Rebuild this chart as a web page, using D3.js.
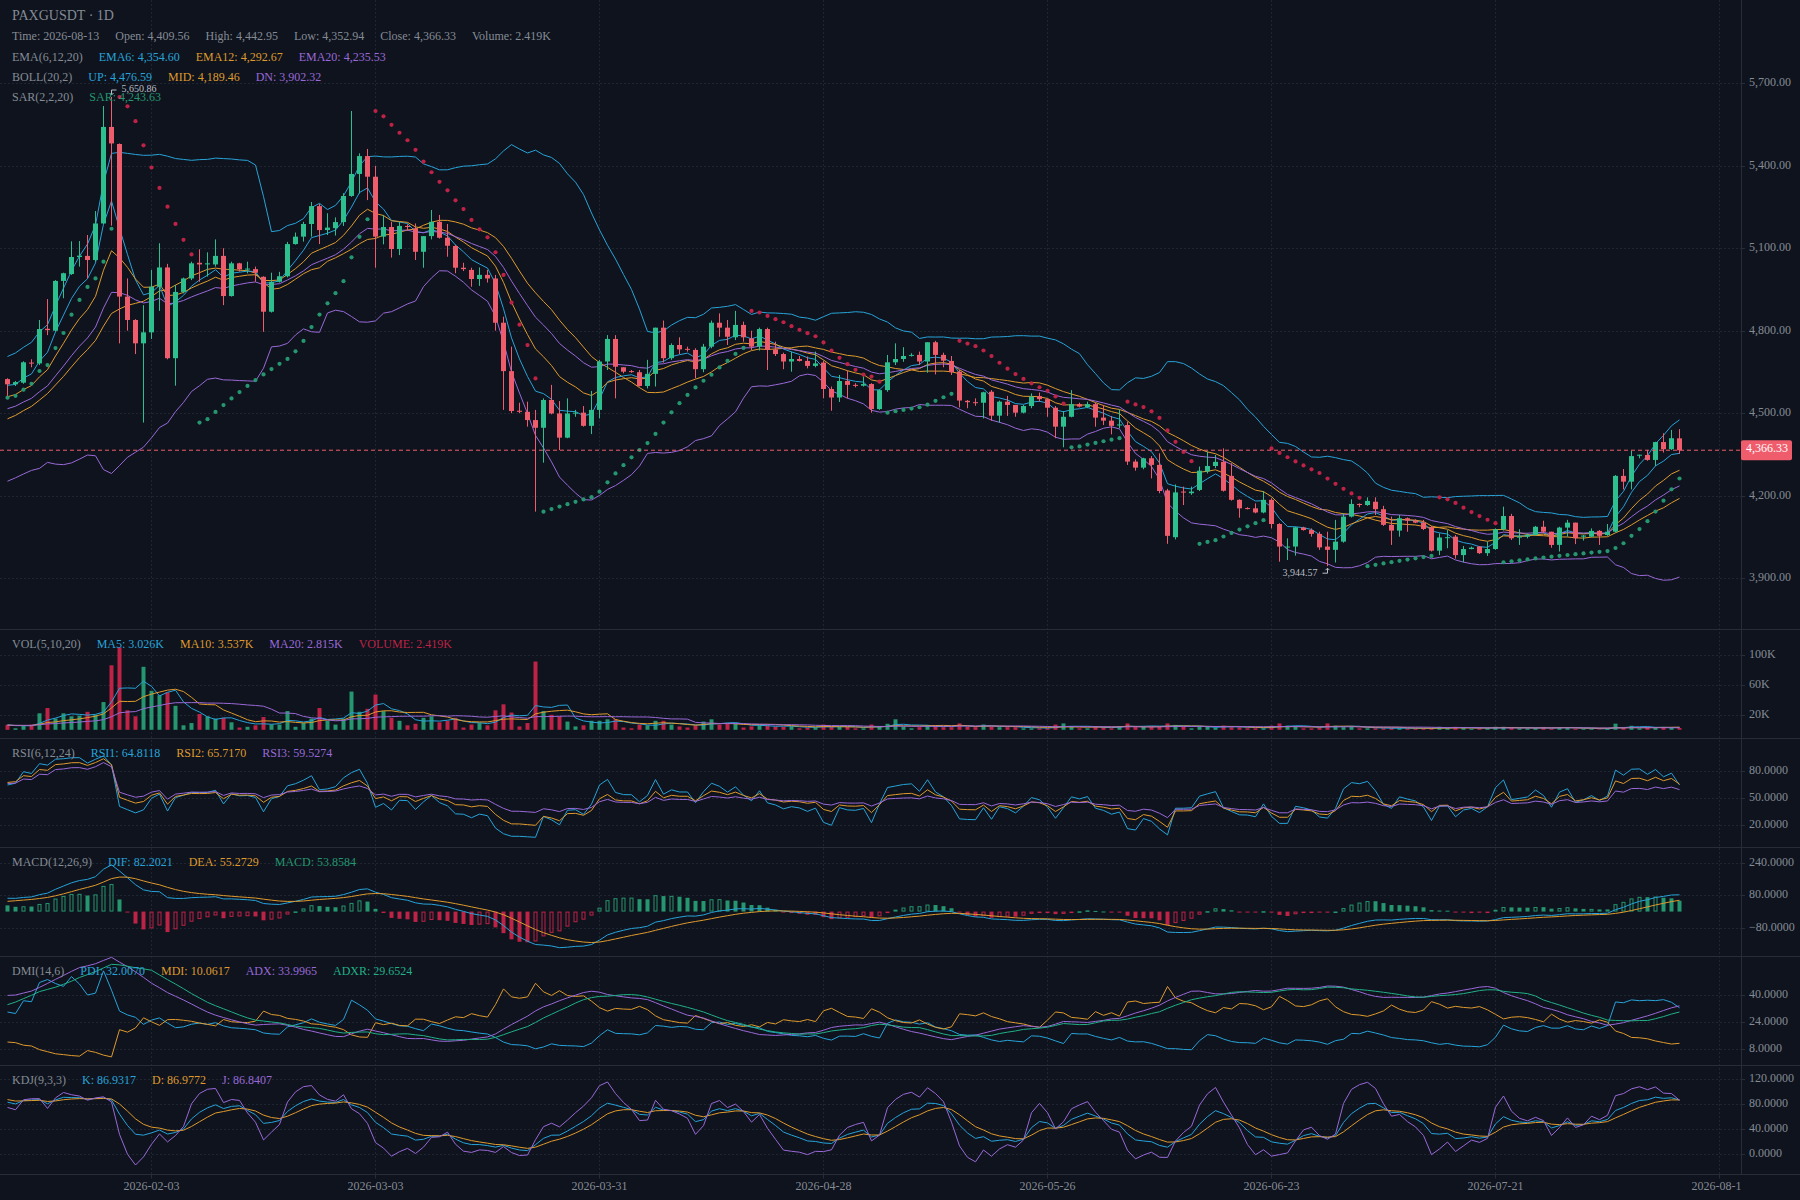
<!DOCTYPE html>
<html><head><meta charset="utf-8">
<script src="https://cdn.jsdelivr.net/npm/d3@7"></script>
<style>html,body{margin:0;padding:0;background:#0e131d;}svg{display:block}</style>
</head><body><svg id="c" width="1800" height="1200"></svg>
<script>
// ---------------- DATA ----------------
const symbolTitle = "PAXGUSDT · 1D";
const startDate = "2026-01-16";
const openP = [
4625,4606,4612,4685,4682,4808,4801,4982,5007,5069,
5073,5058,5191,5542,5480,4925,4840,4755,4795,4961,
5031,4701,4942,4991,5048,5042,5042,5073,4927,5046,
5024,5025,4997,4870,4979,4999,5116,5143,5189,5254,
5167,5174,5196,5291,5371,5436,5361,5143,5178,5098,
5182,5173,5088,5145,5197,5139,5109,5030,5022,4989,
5004,4991,4830,4654,4510,4506,4476,4448,4549,4500,
4412,4500,4503,4455,4513,4689,4771,4668,4654,4650,
4600,4644,4812,4701,4749,4735,4731,4661,4743,4830,
4812,4777,4822,4773,4743,4807,4733,4716,4689,4698,
4691,4673,4685,4589,4558,4618,4604,4601,4607,4516,
4585,4686,4698,4711,4713,4689,4759,4713,4691,4652,
4546,4541,4539,4579,4492,4543,4531,4503,4527,4563,
4552,4521,4452,4488,4534,4523,4534,4485,4474,4458,
4458,4325,4303,4337,4313,4220,4050,4216,4210,4222,
4289,4309,4324,4273,4186,4156,4155,4140,4186,4098,
4013,4016,4085,4076,4062,4016,4004,4034,4125,4171,
4167,4179,4152,4095,4074,4119,4110,4103,4086,4001,
4049,4052,3985,4007,4016,3992,4007,4079,4127,4050,
4052,4058,4088,4070,4022,4085,4103,4052,4052,4073,
4058,4070,4273,4252,4348,4349,4331,4396,4370,4409.56];
const highP = [
4628,4618,4690,4697,4840,4916,4985,5012,5126,5127,
5149,5236,5618,5650.86,5482,4991,4843,4894,5022,5119,
5044,4967,4994,5052,5097,5086,5133,5101,5052,5048,
5052,5034,4999,5012,5015,5124,5158,5197,5269,5262,
5228,5213,5301,5600,5446,5462,5400,5222,5197,5197,
5188,5191,5145,5240,5222,5189,5113,5048,5030,5031,
5022,5004,4852,4743,4539,4543,4513,4555,4604,4545,
4555,4513,4527,4582,4695,4785,4785,4668,4658,4658,
4695,4812,4838,4755,4777,4743,4737,4753,4838,4864,
4840,4873,4834,4801,4812,4812,4761,4721,4725,4709,
4707,4725,4692,4598,4640,4656,4610,4634,4610,4588,
4713,4755,4741,4719,4725,4759,4764,4721,4709,4658,
4549,4555,4579,4585,4547,4564,4531,4531,4573,4576,
4555,4527,4509,4585,4539,4543,4539,4531,4491,4515,
4470,4333,4339,4345,4355,4226,4242,4234,4234,4307,
4361,4349,4373,4319,4188,4159,4173,4218,4192,4101,
4046,4088,4088,4082,4070,4070,4113,4137,4188,4173,
4195,4195,4164,4125,4131,4122,4115,4113,4091,4064,
4076,4058,4018,4016,4018,4034,4082,4161,4135,4079,
4064,4091,4110,4070,4088,4113,4103,4058,4082,4076,
4098,4276,4298,4365,4350,4367,4397,4428,4440,4442.95];
const lowP = [
4564,4600,4608,4668,4676,4785,4798,4919,5004,5034,
4991,5052,5189,5183,4755,4801,4716,4467,4771,4873,
4697,4601,4937,4985,4979,4998,5034,4894,4925,5016,
5010,4979,4797,4867,4976,4995,5114,5125,5143,5116,
5149,5147,5182,5288,5300,5276,5030,5115,5067,5076,
5165,5058,5030,5133,5136,5070,5010,5018,4961,4964,
4976,4801,4513,4501,4501,4452,4143,4321,4497,4367,
4410,4488,4452,4425,4482,4658,4555,4646,4648,4598,
4591,4598,4685,4695,4716,4725,4628,4650,4737,4779,
4749,4767,4761,4731,4729,4658,4709,4661,4652,4689,
4664,4668,4555,4510,4542,4555,4595,4598,4503,4513,
4579,4676,4688,4707,4676,4648,4642,4668,4640,4522,
4519,4528,4482,4474,4467,4491,4488,4500,4519,4543,
4488,4410,4377,4486,4522,4519,4452,4458,4424,4446,
4313,4292,4297,4264,4210,4026,4042,4167,4204,4218,
4282,4301,4216,4183,4121,4151,4137,4137,4082,3961,
3967,3983,4074,4052,4004,3944.57,3958,4030,4122,4159,
4164,4131,4091,4022,4052,4070,4101,4076,3998,3985,
4010,3972,3959,4006,3989,3982,4004,4074,4040,4022,
4046,4055,4064,4012,3998,4052,4025,4038,4050,4022,
4055,4067,4224,4224,4337,4328,4309,4358,4367,4352.94];
const closeP = [
4606,4614,4686,4682,4807,4803,4982,5010,5069,5074,
5058,5191,5542,5482,4925,4840,4755,4795,4961,5031,
4701,4942,4991,5046,5042,5046,5073,4927,5046,5024,
5027,5012,4870,4979,4999,5116,5143,5189,5254,5167,
5176,5196,5291,5371,5436,5361,5143,5178,5098,5182,
5178,5088,5145,5197,5139,5110,5030,5025,4989,5004,
4991,4830,4654,4509,4506,4476,4448,4549,4500,4412,
4500,4503,4455,4513,4689,4771,4670,4652,4651,4600,
4644,4812,4701,4749,4733,4733,4661,4743,4830,4812,
4779,4822,4777,4743,4807,4731,4716,4689,4698,4691,
4673,4682,4589,4558,4618,4604,4602,4607,4516,4585,
4686,4698,4709,4713,4689,4759,4713,4692,4650,4547,
4541,4539,4577,4492,4543,4531,4503,4527,4561,4552,
4521,4452,4488,4534,4525,4534,4485,4474,4455,4460,
4325,4303,4337,4313,4218,4055,4213,4213,4216,4292,
4309,4324,4219,4186,4155,4153,4140,4186,4098,4016,
4016,4086,4076,4062,4013,4004,4034,4125,4171,4167,
4182,4152,4095,4074,4119,4110,4103,4080,4001,4049,
4050,3985,4007,4012,3992,4007,4079,4127,4046,4052,
4058,4088,4070,4022,4085,4103,4046,4056,4073,4055,
4070,4273,4252,4345,4350,4331,4396,4370,4410,4366.33];
const volumeK = [
6.7,2,5,7,22,29,15,22,18,19,
24,20,37,86,110,26,18,84,52,46,
50,32,6,9,21,18,15,16,10,3,
4,6,17,7,7,25,4,9,15,29,
12,7,15,51,24,28,47,25,16,12,
6,8,16,18,10,12,16,3,7,9,
6,26,34,23,4.5,9,91,25,20,18,
11,4.5,6,12,12,14,14,3,2,7,
6,12,12,7,4.5,3,6,11,14,7,
8,8,3,4.5,6,6,4,4,4.5,2,
3,3,7,4,4,4,2,2,7,4,
8,14,4,2,3.5,6.5,6,3.5,3.5,8.5,
4,3.5,7,4,3.5,3.5,3.5,2,2,2,
2,7,8.5,4,2,2,5,3.5,2,5,
8.5,4,4,4,4,8.5,6.5,4,2,4,
4,3,5.5,3.5,3.5,2,2,2,5.5,8.5,
5.5,5,2,2,2.5,8.5,5.5,3.5,4,2,
2,2,2,2.5,2.2,1.8,1.5,2.0,2.6,4,
2.2,4,2.4,1.6,2.0,2.2,4,4,2.5,2.0,
2.0,2.2,3.8,1.6,3.6,3.5,1.5,1.0,1.2,0.55,
2.2,8.2,2.5,5.3,2.0,3.4,3.0,3.3,3.0,2.419];
// bars before the visible window (only feed the indicators, not drawn)
const warmClose = [4385,4370,4392,4378,4380,4395,4372,4360,4388,4402,4376,4365,4390,4370,4385,4362,4340,4372,4350,4328,4356,4390,4372,4405,4470,4525,4505,4560,4598,4575,4612,4640,4618,4625];
const warmHigh  = [4398,4392,4405,4395,4398,4410,4400,4385,4395,4415,4405,4388,4398,4395,4396,4390,4368,4380,4378,4360,4365,4398,4395,4412,4478,4535,4532,4568,4610,4602,4620,4652,4645,4638];
const warmLow   = [4368,4360,4365,4368,4362,4375,4365,4350,4355,4382,4370,4355,4362,4362,4365,4355,4330,4335,4342,4320,4322,4350,4365,4368,4400,4462,4490,4500,4552,4565,4570,4605,4610,4605];
const warmVolK  = [5.8,6.2,4.9,7.1,6.5,4.2,7.8,5.1,6.0,8.3,4.9,5.6,7.2,6.1,5.4,4.8,6.9,7.5,5.2,6.3,4.6,7.0,5.9,6.4,5.5,6.8,4.7,7.3,6.2,5.0,6.6,5.3,7.7,6.1];

const timeTickLabels = ["2026-02-03","2026-03-03","2026-03-31","2026-04-28","2026-05-26","2026-06-23","2026-07-21","2026-08-18"];
const priceTicks = [5700,5400,5100,4800,4500,4200,3900];
const volTicks = [100000,60000,20000];
const volTickLabels = ["100K","60K","20K"];
const rsiTicks = [80,50,20];
const macdTicks = [240,80,-80];
const dmiTicks = [40,24,8];
const kdjTicks = [120,80,40,0];
// legend values as shown by the reference tooltip
const emaLegend = ["4,354.60","4,292.67","4,235.53"];
const bollLegend = ["4,476.59","4,189.46","3,902.32"];
const sarLegend = "4,243.63";
const volLegend = ["3.026K","3.537K","2.815K"];
const rsiLegend = ["64.8118","65.7170","59.5274"];
const macdLegend = ["82.2021","55.2729","53.8584"];
const dmiLegend = ["32.0070","10.0617","33.9965","29.6524"];
const kdjLegend = ["86.9317","86.9772","86.8407"];

// ---------------- STYLE ----------------
const FONT = "'Liberation Serif','Times New Roman',serif";
const C = {bg:'#0e131d', grid:'#1f2631', sep:'#262d39', text:'#858b95',
  up:'#2DC08E', down:'#EF5D6D', upDim:'#25966F', downDim:'#BE2246',
  cyan:'#28A3D9', orange:'#DF9A2E', purple:'#9A69D8', teal:'#22B088', mark:'#b9bdc5'};
const AX = 1741;
const TDY = -1.8; // text vertical nudge
const panes = {main:[0,629.5], vol:[629.5,738.5], rsi:[738.5,847.5], macd:[847.5,956.5], dmi:[956.5,1065.5], kdj:[1065.5,1174.5]};

const svg = d3.select('#c').style('font-family', FONT);
svg.append('rect').attr('width',1800).attr('height',1200).attr('fill',C.bg);
const defs = svg.append('defs');
Object.entries(panes).forEach(([k,[t,b]])=>{
  defs.append('clipPath').attr('id','clip-'+k).append('rect').attr('x',0).attr('y',t).attr('width',AX).attr('height',b-t);
});
defs.append('clipPath').attr('id','clip-xaxis').append('rect').attr('x',0).attr('y',1174).attr('width',AX).attr('height',26);

// ---------------- INDICATORS ----------------
const N = closeP.length, WU = warmClose.length;
const aH = warmHigh.concat(highP), aL = warmLow.concat(lowP), aC = warmClose.concat(closeP);
const aV = warmVolK.concat(volumeK).map(v=>v*1000);
function ema(arr,n){const a=2/(n+1);let e;return arr.map((v,i)=> e = i===0? v : a*v+(1-a)*e);}
function sma(arr,n){return arr.map((v,i)=> i<n-1? null : d3.mean(arr.slice(i-n+1,i+1)));}
function boll(arr,n,k){return arr.map((v,i)=>{if(i<n-1)return null;const w=arr.slice(i-n+1,i+1);const m=d3.mean(w);const sd=Math.sqrt(d3.mean(w,x=>(x-m)*(x-m)));return {mid:m,up:m+k*sd,dn:m-k*sd};});}
function rsi(arr,p){let au=0,ad=0;return arr.map((v,i)=>{if(i===0)return null;const d=v-arr[i-1];au=(Math.max(d,0)+(p-1)*au)/p;ad=(Math.max(-d,0)+(p-1)*ad)/p;return i<p?null:(au+ad===0?50:au/(au+ad)*100);});}
function kdj(H,L,Cl,n){let k=50,d=50;return Cl.map((c,i)=>{const s=Math.max(0,i-n+1);const hh=d3.max(H.slice(s,i+1)),ll=d3.min(L.slice(s,i+1));const rsv=hh===ll?100:(c-ll)/(hh-ll)*100;k=(2*k+rsv)/3;d=(2*d+k)/3;return {k,d,j:3*k-2*d};});}
function dmi(H,L,Cl,n,m){let trS=0,hS=0,lS=0,mtr=0,dmp=0,dmm=0,dxS=0,adx=0;const res=[];
  Cl.forEach((c,i)=>{const r={};const pi=i>0?i-1:0;const pc=Cl[pi];const hl=H[i]-L[i],hcy=Math.abs(H[i]-pc),lcy=Math.abs(pc-L[i]);
    const hhy=H[i]-H[pi],lyl=L[pi]-L[i];const tr=Math.max(hl,hcy,lcy);const h=(hhy>0&&hhy>lyl)?hhy:0;const l=(lyl>0&&lyl>hhy)?lyl:0;
    trS+=tr;hS+=h;lS+=l;
    if(i>=n-1){ if(i>n-1){mtr=mtr-mtr/n+tr;dmp=dmp-dmp/n+h;dmm=dmm-dmm/n+l;}else{mtr=trS;dmp=hS;dmm=lS;}
      const pdi=mtr?dmp*100/mtr:0, mdi=mtr?dmm*100/mtr:0; r.pdi=pdi;r.mdi=mdi;
      const dx=(pdi+mdi)?Math.abs(mdi-pdi)/(mdi+pdi)*100:0; dxS+=dx;
      if(i>=n*2-2){ adx = i>n*2-2 ? (adx*(n-1)+dx)/n : dxS/n; r.adx=adx;
        if(i>=n*2+m-3) r.adxr=(res[i-(m-1)].adx+adx)/2; } }
    res.push(r);});return res;}
function sar(H,L){const s0=0.02,st=0.02,mx=0.2;let af=s0,ep=-100,inc=false,s=0;
  return H.map((h,i)=>{const l=L[i];const pre=s;
    if(inc){ if(ep===-100||ep<h){ep=h;af=Math.min(af+st,mx);} s=pre+af*(ep-pre);
      const lm=Math.min(L[Math.max(1,i)-1],l); if(s>l){s=ep;af=s0;ep=-100;inc=false;} else if(s>lm){s=lm;} }
    else { if(ep===-100||ep>l){ep=l;af=Math.min(af+st,mx);} s=pre+af*(ep-pre);
      const hm=Math.max(H[Math.max(1,i)-1],h); if(s<h){s=ep;af=0;ep=-100;inc=true;} else if(s<hm){s=hm;} }
    return s;});}
const vis = a => a.slice(WU);
const ema6=vis(ema(aC,6)), ema12=vis(ema(aC,12)), ema20=vis(ema(aC,20));
const bl=vis(boll(aC,20,2));
const sarV=vis(sar(aH,aL));
const vma5=vis(sma(aV,5)), vma10=vis(sma(aV,10)), vma20=vis(sma(aV,20));
const r6=vis(rsi(aC,6)), r12=vis(rsi(aC,12)), r24=vis(rsi(aC,24));
const e12=ema(aC,12), e26=ema(aC,26); const difA=e12.map((v,i)=>v-e26[i]); const deaA=ema(difA,9);
const dif=vis(difA), dea=vis(deaA), hist=vis(difA.map((v,i)=>2*(v-deaA[i])));
const histPrev = difA.map((v,i)=>i>0?2*(difA[i-1]-deaA[i-1]):-Infinity).slice(WU);
const dm=vis(dmi(aH,aL,aC,14,6));
const kd=vis(kdj(aH,aL,aC,9));

// ---------------- SCALES ----------------
const d0 = new Date(startDate+"T00:00:00Z");
const dates = d3.range(N).map(i=>d3.utcDay.offset(d0,i));
const x = d3.scaleUtc().domain([dates[0],dates[N-1]]).range([7,7+8*(N-1)]);
const xi = i => x(dates[i]);
const yP = d3.scaleLinear().domain([d3.min(lowP), d3.max(highP)]).range([566.2, 97]);
const yV = d3.scaleLinear().domain([0,100000]).range([729.8,654.8]);
const yR = d3.scaleLinear().domain([20,80]).range([825.2,771.2]);
const yM = d3.scaleLinear().domain([-80,240]).range([927.9,862.6]);
const yD = d3.scaleLinear().domain([8,40]).range([1048.9,994.6]);
const yK = d3.scaleLinear().domain([0,120]).range([1154.3,1079.3]);
const fmt2 = d3.format(",.2f"), fmt4 = d3.format(".4f");

// ---------------- GRID & AXES ----------------
const grid = svg.append('g').attr('stroke',C.grid).attr('stroke-dasharray','2,2').attr('stroke-width',1);
const tickDates = timeTickLabels.map(s=>new Date(s+"T00:00:00Z"));
tickDates.forEach(d=>{const px=Math.round(x(d))+0.5; if(px<AX) grid.append('line').attr('x1',px).attr('x2',px).attr('y1',0).attr('y2',1174);});
function hgrid(scale, ticks){ticks.forEach(t=>{const py=Math.round(scale(t))+0.5;grid.append('line').attr('x1',0).attr('x2',AX).attr('y1',py).attr('y2',py);});}
hgrid(yP,priceTicks);hgrid(yV,volTicks);hgrid(yR,rsiTicks);hgrid(yM,macdTicks);hgrid(yD,dmiTicks);hgrid(yK,kdjTicks);

const axisG = svg.append('g');
function axisLabels(scale,ticks,labels){ticks.forEach((t,k)=>{const py=Math.round(scale(t))+0.5;
  axisG.append('line').attr('x1',AX).attr('x2',AX+4).attr('y1',py).attr('y2',py).attr('stroke',C.sep);
  axisG.append('text').attr('x',1749).attr('y',py+TDY).attr('dominant-baseline','central').attr('font-size',12).attr('fill',C.text).text(labels[k]);});}
axisLabels(yP,priceTicks,priceTicks.map(fmt2));
axisLabels(yV,volTicks,volTickLabels);
axisLabels(yR,rsiTicks,rsiTicks.map(fmt4));
axisLabels(yM,macdTicks,macdTicks.map(fmt4));
axisLabels(yD,dmiTicks,dmiTicks.map(fmt4));
axisLabels(yK,kdjTicks,kdjTicks.map(fmt4));
// separators
[629.5,738.5,847.5,956.5,1065.5,1174.5].forEach(py=>svg.append('line').attr('x1',0).attr('x2',1800).attr('y1',py).attr('y2',py).attr('stroke',C.sep));
svg.append('line').attr('x1',AX+0.5).attr('x2',AX+0.5).attr('y1',0).attr('y2',1174.5).attr('stroke',C.sep);
// time axis
const xa = svg.append('g').attr('clip-path','url(#clip-xaxis)');
tickDates.forEach((d,k)=>{const px=Math.round(x(d))+0.5;
  xa.append('line').attr('x1',px).attr('x2',px).attr('y1',1174.5).attr('y2',1178.5).attr('stroke',C.sep);
  xa.append('text').attr('x',px).attr('y',1186).attr('text-anchor','middle').attr('dominant-baseline','central').attr('font-size',12).attr('fill',C.text).text(timeTickLabels[k]);});

// ---------------- MAIN PANE ----------------
const gm = svg.append('g').attr('clip-path','url(#clip-main)');
function drawLine(g, vals, scale, color){
  const line = d3.line().defined(d=>d.v!=null && isFinite(d.v)).x(d=>xi(d.i)+0.5).y(d=>scale(d.v));
  g.append('path').datum(vals.map((v,i)=>({i,v}))).attr('d',line).attr('fill','none').attr('stroke',color).attr('stroke-width',1);
}
drawLine(gm, bl.map(b=>b&&b.up), yP, C.cyan);
drawLine(gm, bl.map(b=>b&&b.mid), yP, C.orange);
drawLine(gm, bl.map(b=>b&&b.dn), yP, C.purple);
drawLine(gm, ema6, yP, C.cyan);
drawLine(gm, ema12, yP, C.orange);
drawLine(gm, ema20, yP, C.purple);
// SAR
gm.selectAll('circle.sar').data(sarV).join('circle').attr('class','sar')
  .attr('cx',(d,i)=>xi(i)+0.5).attr('cy',d=>yP(d)).attr('r',2.1)
  .attr('fill',(d,i)=> d < (highP[i]+lowP[i])/2 ? C.upDim : C.downDim);
// candles
const cg = gm.append('g');
d3.range(N).forEach(i=>{
  const up = closeP[i] >= openP[i]; const col = up?C.up:C.down;
  const px = Math.round(xi(i));
  const yh=yP(highP[i]), yl=yP(lowP[i]);
  cg.append('rect').attr('x',px).attr('y',yh).attr('width',1).attr('height',Math.max(1,yl-yh)).attr('fill',col);
  const yt=yP(Math.max(openP[i],closeP[i])), yb=yP(Math.min(openP[i],closeP[i]));
  cg.append('rect').attr('x',px-2).attr('y',yt).attr('width',5).attr('height',Math.max(1,yb-yt)).attr('fill',col);
});
// last price line
const lastY = yP(closeP[N-1]);
gm.append('line').attr('x1',0).attr('x2',AX).attr('y1',lastY).attr('y2',lastY).attr('stroke',C.down).attr('stroke-dasharray','4,3').attr('stroke-width',1);
// high / low marks
function mark(i, val, isHigh){
  const px = xi(i)+0.5; const sy = yP(val) + (isHigh?-2:2); const ly = sy + (isHigh?-5:5);
  const right = px < AX/2; const ex = right? px+5 : px-5;
  gm.append('path').attr('d',`M${px-2},${sy+(isHigh?-2:2)}L${px},${sy}L${px+2},${sy+(isHigh?-2:2)}M${px},${sy}L${px},${ly}L${ex},${ly}`)
    .attr('fill','none').attr('stroke',C.mark).attr('stroke-width',1);
  gm.append('text').attr('x', right? ex+5 : ex-5).attr('y',ly+TDY*0.6).attr('text-anchor',right?'start':'end')
    .attr('dominant-baseline','central').attr('font-size',10).attr('fill',C.mark).text(fmt2(val));
}
const iHi = d3.maxIndex(highP), iLo = d3.minIndex(lowP);
mark(iHi, highP[iHi], true); mark(iLo, lowP[iLo], false);
// price tag
const tagTxt = fmt2(closeP[N-1]);
const tag = svg.append('g');
const tt = tag.append('text').attr('x',AX+5).attr('y',lastY+TDY).attr('dominant-baseline','central').attr('font-size',12).attr('fill','#ffffff').text(tagTxt);
const tw = tt.node().getComputedTextLength();
tag.insert('rect','text').attr('x',AX).attr('y',lastY-10).attr('width',tw+9).attr('height',20).attr('rx',2).attr('fill',C.down);

// ---------------- VOLUME ----------------
const gv = svg.append('g').attr('clip-path','url(#clip-vol)');
d3.range(N).forEach(i=>{const v=volumeK[i]*1000;const col = closeP[i]>=openP[i]?C.upDim:C.downDim;
  const yt=yV(v);gv.append('rect').attr('x',xi(i)-1.5).attr('y',yt).attr('width',4).attr('height',Math.max(0.5,yV(0)-yt)).attr('fill',col);});
drawLine(gv, vma5, yV, C.cyan); drawLine(gv, vma10, yV, C.orange); drawLine(gv, vma20, yV, C.purple);

// ---------------- RSI ----------------
const gr = svg.append('g').attr('clip-path','url(#clip-rsi)');
drawLine(gr, r6, yR, C.cyan); drawLine(gr, r12, yR, C.orange); drawLine(gr, r24, yR, C.purple);

// ---------------- MACD ----------------
const gc = svg.append('g').attr('clip-path','url(#clip-macd)');
const y0 = yM(0);
hist.forEach((h,i)=>{const col = h>0?C.upDim:(h<0?C.downDim:C.text);
  const hollow = histPrev[i] < h; const yt=Math.min(yM(h),y0), hh=Math.max(1,Math.abs(yM(h)-y0));
  if(hollow) gc.append('rect').attr('x',xi(i)-1).attr('y',yt+0.5).attr('width',3).attr('height',Math.max(0.5,hh-1)).attr('fill','none').attr('stroke',col).attr('stroke-width',1);
  else gc.append('rect').attr('x',xi(i)-1.5).attr('y',yt).attr('width',4).attr('height',hh).attr('fill',col);});
drawLine(gc, dif, yM, C.cyan); drawLine(gc, dea, yM, C.orange);

// ---------------- DMI ----------------
const gd = svg.append('g').attr('clip-path','url(#clip-dmi)');
drawLine(gd, dm.map(d=>d.pdi), yD, C.cyan); drawLine(gd, dm.map(d=>d.mdi), yD, C.orange);
drawLine(gd, dm.map(d=>d.adx), yD, C.purple); drawLine(gd, dm.map(d=>d.adxr), yD, C.teal);

// ---------------- KDJ ----------------
const gk = svg.append('g').attr('clip-path','url(#clip-kdj)');
drawLine(gk, kd.map(d=>d.k), yK, C.cyan); drawLine(gk, kd.map(d=>d.d), yK, C.orange); drawLine(gk, kd.map(d=>d.j), yK, C.purple);

// ---------------- LEGENDS ----------------
function legendRow(y, items, size){let lx=12;items.forEach(([t,c])=>{const el=svg.append('text').attr('x',lx).attr('y',y+TDY*0.7).attr('dominant-baseline','central').attr('font-size',size||12).attr('fill',c).text(t);lx+=el.node().getComputedTextLength()+16;});}
const fmtK = v => d3.format(".3f")(v)+"K";
legendRow(17.2, [[symbolTitle, C.text]], 14);
legendRow(37.7, [["Time: "+d3.utcFormat("%Y-%m-%d")(dates[N-1]),C.text],["Open: "+fmt2(openP[N-1]),C.text],["High: "+fmt2(highP[N-1]),C.text],["Low: "+fmt2(lowP[N-1]),C.text],["Close: "+fmt2(closeP[N-1]),C.text],["Volume: "+fmtK(volumeK[N-1]),C.text]]);
legendRow(58.2, [["EMA(6,12,20)",C.text],["EMA6: "+emaLegend[0],C.cyan],["EMA12: "+emaLegend[1],C.orange],["EMA20: "+emaLegend[2],C.purple]]);
legendRow(78.2, [["BOLL(20,2)",C.text],["UP: "+bollLegend[0],C.cyan],["MID: "+bollLegend[1],C.orange],["DN: "+bollLegend[2],C.purple]]);
legendRow(98.2, [["SAR(2,2,20)",C.text],["SAR: "+sarLegend,C.upDim]]);
legendRow(645, [["VOL(5,10,20)",C.text],["MA5: "+volLegend[0],C.cyan],["MA10: "+volLegend[1],C.orange],["MA20: "+volLegend[2],C.purple],["VOLUME: "+fmtK(volumeK[N-1]),C.downDim]]);
legendRow(754, [["RSI(6,12,24)",C.text],["RSI1: "+rsiLegend[0],C.cyan],["RSI2: "+rsiLegend[1],C.orange],["RSI3: "+rsiLegend[2],C.purple]]);
legendRow(863, [["MACD(12,26,9)",C.text],["DIF: "+macdLegend[0],C.cyan],["DEA: "+macdLegend[1],C.orange],["MACD: "+macdLegend[2],C.upDim]]);
legendRow(972, [["DMI(14,6)",C.text],["PDI: "+dmiLegend[0],C.cyan],["MDI: "+dmiLegend[1],C.orange],["ADX: "+dmiLegend[2],C.purple],["ADXR: "+dmiLegend[3],C.teal]]);
legendRow(1081, [["KDJ(9,3,3)",C.text],["K: "+kdjLegend[0],C.cyan],["D: "+kdjLegend[1],C.orange],["J: "+kdjLegend[2],C.purple]]);
</script></body></html>
